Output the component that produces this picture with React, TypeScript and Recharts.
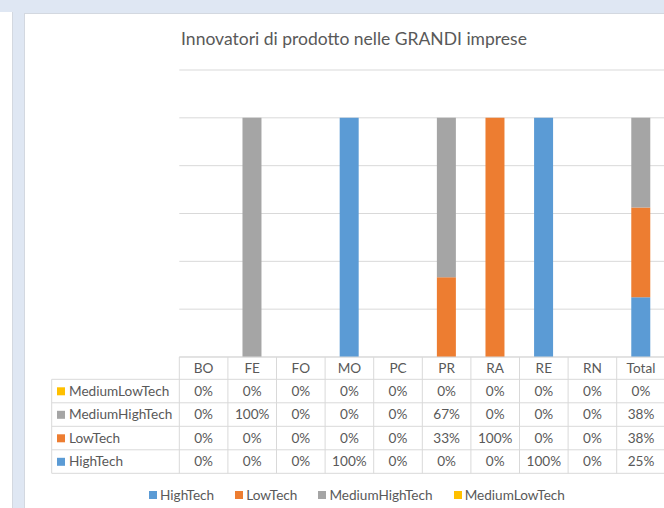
import { Bar, BarChart, CartesianGrid, XAxis, YAxis } from 'recharts'

const categories = ['BO', 'FE', 'FO', 'MO', 'PC', 'PR', 'RA', 'RE', 'RN', 'Total']
const highTech = [0, 0, 0, 1, 0, 0, 0, 1, 0, 0.25]
const lowTech = [0, 0, 0, 0, 0, 0.333, 1, 0, 0, 0.375]
const mediumHighTech = [0, 1, 0, 0, 0, 0.667, 0, 0, 0, 0.375]
const mediumLowTech = [0, 0, 0, 0, 0, 0, 0, 0, 0, 0]
const yTicks = [0, 0.2, 0.4, 0.6, 0.8, 1, 1.2]

const TITLE = 'Innovatori di prodotto nelle GRANDI imprese'
const FONT = 'Lato, "Open Sans", sans-serif'
const TEXT = '#595959'
const LINE = '#d9d9d9'
const FS = 13.6

// stack order, bottom to top
const series = [
  { key: 'HighTech', values: highTech, color: '#5b9bd5' },
  { key: 'LowTech', values: lowTech, color: '#ed7d31' },
  { key: 'MediumHighTech', values: mediumHighTech, color: '#a5a5a5' },
  { key: 'MediumLowTech', values: mediumLowTech, color: '#ffc000' },
]

const data = categories.map((name, i) => {
  const row: Record<string, string | number> = { name }
  series.forEach((s) => (row[s.key] = s.values[i]))
  return row
})

const CHART_W = 700
const CHART_H = 508
const PLOT_LEFT = 179.3
const PLOT_RIGHT = 665.3
const PLOT_TOP = 70
const PLOT_BOTTOM = 357
const COL_W = (PLOT_RIGHT - PLOT_LEFT) / categories.length
const LABEL_LEFT = 51.7
const HEADER_BOTTOM = 379.3
const ROW_H = 23.5

const pct = (v: number) => `${Math.round(v * 100)}%`

function DataTable() {
  const rows = [...series].reverse()
  const tableBottom = HEADER_BOTTOM + rows.length * ROW_H
  return (
    <svg
      width={664}
      height={508}
      style={{ position: 'absolute', left: 0, top: 0, pointerEvents: 'none' }}
      fontFamily={FONT}
    >
      <text x={354} y={45} textAnchor="middle" fontSize={17.5} fill={TEXT}>
        {TITLE}
      </text>
      <line x1={PLOT_LEFT} x2={PLOT_RIGHT + 10} y1={PLOT_BOTTOM} y2={PLOT_BOTTOM} stroke={LINE} />
      {rows.map((_, r) => (
        <line
          key={`h${r}`}
          x1={LABEL_LEFT}
          x2={PLOT_RIGHT + 10}
          y1={HEADER_BOTTOM + r * ROW_H}
          y2={HEADER_BOTTOM + r * ROW_H}
          stroke={LINE}
        />
      ))}
      <line x1={LABEL_LEFT} x2={PLOT_RIGHT + 10} y1={tableBottom} y2={tableBottom} stroke={LINE} />
      <line x1={LABEL_LEFT} x2={LABEL_LEFT} y1={HEADER_BOTTOM} y2={tableBottom} stroke={LINE} />
      {categories.map((c, i) => (
        <g key={c}>
          <line
            x1={PLOT_LEFT + i * COL_W}
            x2={PLOT_LEFT + i * COL_W}
            y1={PLOT_BOTTOM}
            y2={tableBottom}
            stroke={LINE}
          />
          <text x={PLOT_LEFT + (i + 0.5) * COL_W} y={PLOT_BOTTOM + 16} textAnchor="middle" fontSize={FS} fill={TEXT}>
            {c}
          </text>
        </g>
      ))}
      <line x1={PLOT_RIGHT} x2={PLOT_RIGHT} y1={PLOT_BOTTOM} y2={tableBottom} stroke={LINE} />
      {rows.map((s, r) => {
        const base = HEADER_BOTTOM + r * ROW_H + 16.5
        return (
          <g key={s.key}>
            <rect x={57} y={base - 8.5} width={8} height={8} fill={s.color} />
            <text x={69} y={base} fontSize={FS} fill={TEXT}>
              {s.key}
            </text>
            {s.values.map((v, i) => (
              <text
                key={i}
                x={PLOT_LEFT + (i + 0.5) * COL_W}
                y={base}
                textAnchor="middle"
                fontSize={FS}
                fill={TEXT}
              >
                {pct(v)}
              </text>
            ))}
          </g>
        )
      })}
    </svg>
  )
}

function BottomLegend() {
  return (
    <div
      style={{
        position: 'absolute',
        left: 25,
        top: 487,
        width: 664,
        display: 'flex',
        justifyContent: 'center',
        fontFamily: FONT,
        fontSize: FS,
        color: TEXT,
        lineHeight: '16px',
      }}
    >
      {series.map((s) => (
        <div key={s.key} style={{ display: 'flex', alignItems: 'center', margin: '0 10.5px' }}>
          <span style={{ width: 8, height: 8, background: s.color, marginRight: 3 }} />
          <span>{s.key}</span>
        </div>
      ))}
    </div>
  )
}

export default function App() {
  return (
    <div
      style={{
        position: 'absolute',
        left: 0,
        top: 0,
        width: 664,
        height: 508,
        overflow: 'hidden',
        background: '#dfe7f3',
      }}
    >
      <div
        style={{
          position: 'absolute',
          left: 0,
          top: 12,
          width: 12,
          height: 496,
          background: '#ffffff',
          borderRight: '1px solid #d3d8e0',
        }}
      />
      <div
        style={{
          position: 'absolute',
          left: 24,
          top: 13,
          width: 700,
          height: 500,
          background: '#ffffff',
          borderLeft: '1px solid #d3d8e0',
          borderTop: '1px solid #d3d8e0',
        }}
      />
      <div style={{ position: 'absolute', left: 0, top: 0 }}>
        <BarChart
          width={CHART_W}
          height={CHART_H}
          data={data}
          barCategoryGap="30%"
          margin={{
            top: PLOT_TOP,
            left: PLOT_LEFT,
            right: CHART_W - PLOT_RIGHT,
            bottom: CHART_H - PLOT_BOTTOM,
          }}
        >
          <CartesianGrid horizontal vertical={false} stroke={LINE} />
          <XAxis dataKey="name" hide />
          <YAxis hide domain={[0, 1.2]} ticks={yTicks} />
          {series.map((s) => (
            <Bar key={s.key} dataKey={s.key} stackId="a" fill={s.color} isAnimationActive={false} />
          ))}
        </BarChart>
      </div>
      <DataTable />
      <BottomLegend />
    </div>
  )
}
